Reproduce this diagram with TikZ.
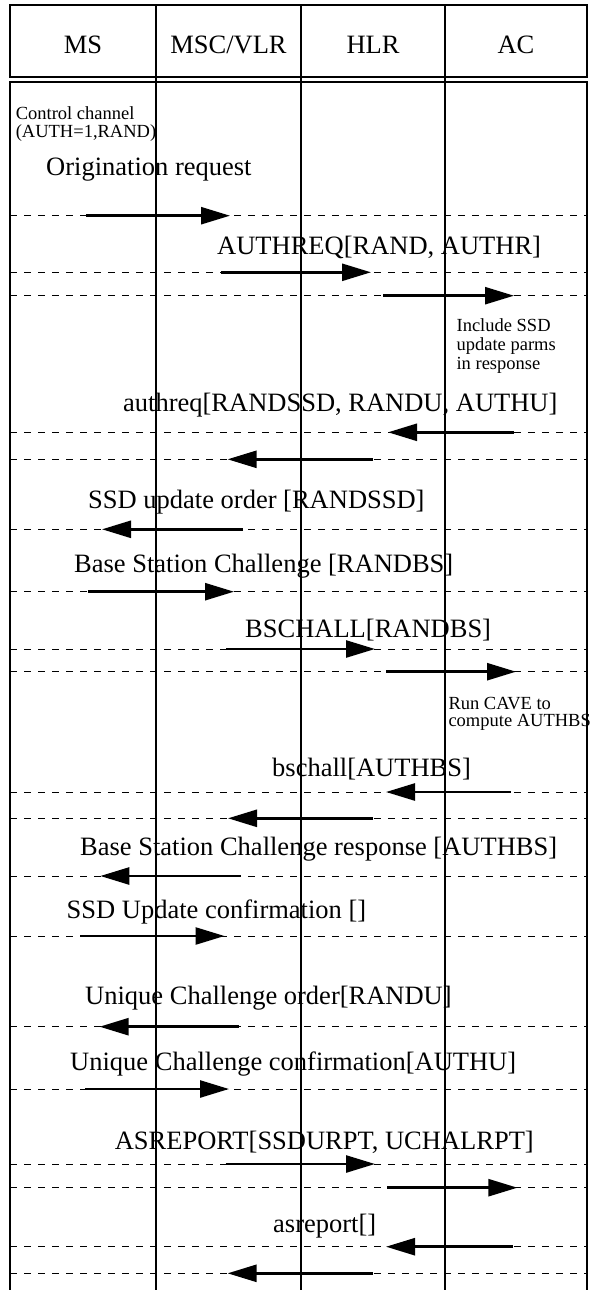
\documentclass[tikz,border=0pt]{standalone}
\usepackage{fontspec}
\setmainfont{Liberation Serif}
\usetikzlibrary{arrows.meta}
\begin{document}
\begin{tikzpicture}[x=1pt,y=-1pt,
  frame/.style={line width=1.2pt},
  life/.style={line width=1.1pt},
  guide/.style={line width=0.8pt, dash pattern=on 7pt off 7pt},
  msg/.style={line width=2.6pt, -{Triangle[length=29pt,width=17pt]}},
  big/.style={font=\fontsize{26.5}{30}\selectfont, inner sep=0pt},
  note/.style={font=\fontsize{18.5}{17.5}\selectfont, inner sep=0pt, align=left},
]
\useasboundingbox (0,0) rectangle (589,1290);

% header row and message area
\draw[frame] (10,5) rectangle (587,77);
\draw[frame] (10,1290) -- (10,82) -- (587,82) -- (587,1290);
\foreach \x in {156,301,445} \draw[life] (\x,5) -- (\x,1290);

\node[big, anchor=base] (hms)  at (83,53.3)  {MS};
\node[big, anchor=base] (hmsc) at (228.5,53.3) {MSC/VLR};
\node[big, anchor=base] (hhlr) at (373,53.3) {HLR};
\node[big, anchor=base] (hac)  at (516,53.3) {AC};

% message rows: y, start x, end x
\foreach \i/\y/\xa/\xb in {
  1/215.7/86/230,
  2/272.3/221/371,
  3/295.7/383/514,
  4/432.3/514/388,
  5/459.3/373/227.6,
  6/529.3/243/102,
  7/591.7/88/234,
  8/649/226/375,
  9/671.7/386/516,
  10/792/510.6/386,
  11/818.3/372.5/228,
  12/876/240.7/100.3,
  13/936/80.4/224.5,
  14/1026.7/238.5/99.6,
  15/1089/85.3/229,
  16/1164/225.7/375,
  17/1187.7/387/517.4,
  18/1246.7/512.5/386,
  19/1273.3/372.5/227.6}{
  \coordinate (gl\i) at (10,\y);
  \coordinate (gr\i) at (587,\y);
  \coordinate (ms\i) at (\xa,\y);
  \coordinate (me\i) at (\xb,\y);
  \draw[guide] (gl\i) -- (gr\i);
  \draw[msg] (ms\i) -- (me\i);
}

% message labels
\node[big, anchor=base west] (l1)  at (46,175)    {Origination request};
\node[big, anchor=base west] (l2)  at (217,254)   {AUTHREQ[RAND, AUTHR]};
\node[big, anchor=base west] (l4)  at (123,411)   {authreq[RANDSSD, RANDU, AUTHU]};
\node[big, anchor=base west] (l6)  at (88,508)    {SSD update order [RANDSSD]};
\node[big, anchor=base west] (l7)  at (74,572)    {Base Station Challenge [RANDBS]};
\node[big, anchor=base west] (l8)  at (245,637)   {BSCHALL[RANDBS]};
\node[big, anchor=base west] (l10) at (272,776)   {bschall[AUTHBS]};
\node[big, anchor=base west] (l12) at (80,855)    {Base Station Challenge response [AUTHBS]};
\node[big, anchor=base west] (l13) at (66.5,918)  {SSD Update confirmation []};
\node[big, anchor=base west] (l14) at (85,1004)   {Unique Challenge order[RANDU]};
\node[big, anchor=base west] (l15) at (70,1070)   {Unique Challenge confirmation[AUTHU]};
\node[big, anchor=base west] (l16) at (114.6,1149){ASREPORT[SSDURPT, UCHALRPT]};
\node[big, anchor=base west] (l18) at (273,1232)  {asreport[]};

% side notes (anchored on the baseline of their last line)
\node[note, anchor=base west] (n1) at (15.6,137.3) {Control channel\\(AUTH=1,RAND)};
\node[note, anchor=base west, font=\fontsize{18.5}{18.7}\selectfont] (n2) at (456.4,369) {Include SSD\\update parms\\in response};
\node[note, anchor=base west] (n3) at (448.3,726.7) {Run CAVE to\\compute AUTHBS};
\end{tikzpicture}
\end{document}
